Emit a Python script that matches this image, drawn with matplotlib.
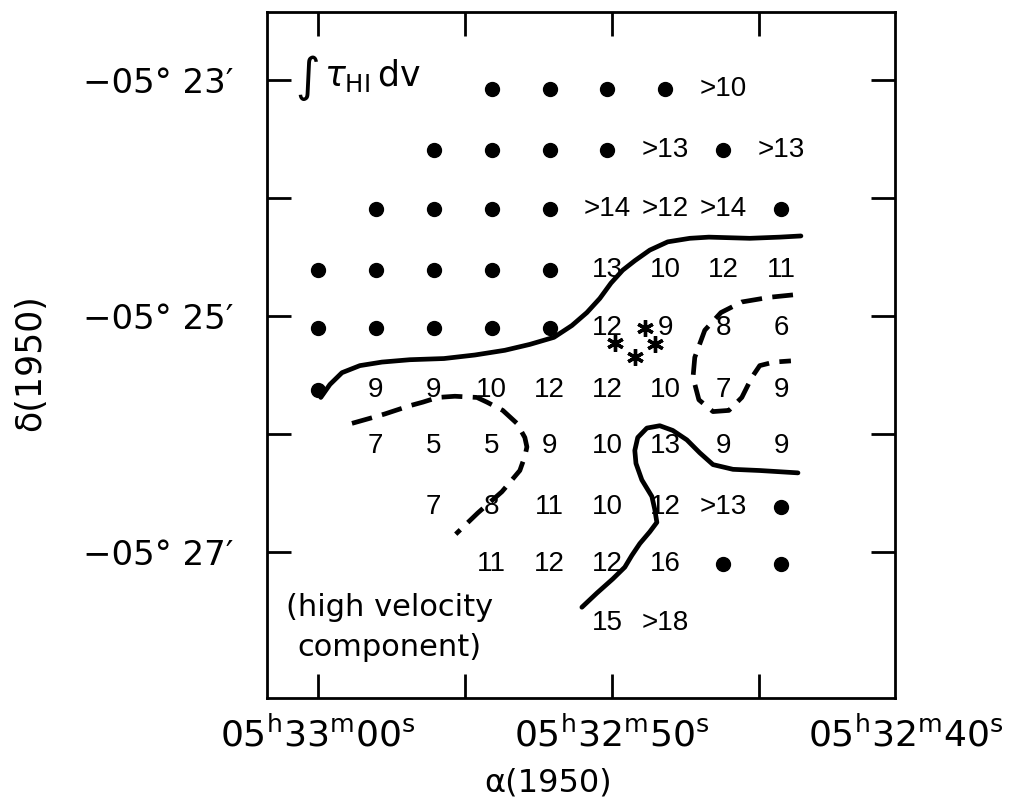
import numpy as np
import matplotlib
matplotlib.use("Agg")
import matplotlib.pyplot as plt

# grid of positions: RA seconds (05h32m + s) and Dec arcmin (-05 deg + ')
ra_cols = [60.0, 58.03, 56.06, 54.09, 52.12, 50.15, 48.18, 46.21, 44.24]
dec_rows = [-23.07, -23.59, -24.09, -24.61, -25.10, -25.63, -26.10, -26.62, -27.10, -27.60]

# integrated optical depth per grid point, "*" = dot (no value), "" = not observed
tau_grid = [
    ["", "", "", "*", "*", "*", "*", ">10", ""],
    ["", "", "*", "*", "*", "*", ">13", "*", ">13"],
    ["", "*", "*", "*", "*", ">14", ">12", ">14", "*"],
    ["*", "*", "*", "*", "*", "13", "10", "12", "11"],
    ["*", "*", "*", "*", "*", "12", "9", "8", "6"],
    ["*", "9", "9", "10", "12", "12", "10", "7", "9"],
    ["", "7", "5", "5", "9", "10", "13", "9", "9"],
    ["", "", "7", "8", "11", "10", "12", ">13", "*"],
    ["", "", "", "11", "12", "12", "16", "*", "*"],
    ["", "", "", "", "", "15", ">18", "", ""],
]

# stars (asterisks)
star_ra = [49.90, 48.88, 49.22, 48.54]
star_dec = [-25.23, -25.10, -25.35, -25.24]

# solid contour, upper
solid1_ra = [59.90, 59.59, 59.18, 58.57, 57.82, 56.87, 55.71, 54.66, 53.64, 52.79, 51.97, 51.36,
             50.85, 50.41, 50.03, 49.63, 49.22, 48.71, 48.10, 47.35, 46.70, 45.31, 44.29, 43.57]
solid1_dec = [-25.69, -25.58, -25.48, -25.42, -25.39, -25.37, -25.36, -25.33, -25.29, -25.24, -25.18, -25.08,
              -24.97, -24.85, -24.72, -24.61, -24.53, -24.44, -24.37, -24.34, -24.33, -24.34, -24.33, -24.32]

# solid contour, lower
solid2_ra = [51.02, 50.51, 49.97, 49.56, 49.32, 49.05, 48.71, 48.47, 48.54, 48.64, 48.98, 49.18,
             49.22, 49.12, 48.81, 48.37, 47.93, 47.45, 47.01, 46.56, 45.88, 44.97, 43.67]
solid2_dec = [-27.47, -27.35, -27.23, -27.13, -27.03, -26.93, -26.83, -26.75, -26.64, -26.53, -26.39, -26.25,
              -26.14, -26.03, -25.95, -25.93, -25.97, -26.05, -26.16, -26.26, -26.30, -26.31, -26.33]

# dashed contour, left
dash1_ra = [58.84, 58.13, 57.72, 56.87, 56.43, 55.92, 55.34, 54.59, 54.25, 53.71, 53.23, 52.96,
            52.89, 52.96, 53.13, 53.40, 53.74, 54.15, 54.56, 55.31]
dash1_dec = [-25.91, -25.86, -25.83, -25.76, -25.73, -25.69, -25.68, -25.69, -25.73, -25.80, -25.91, -26.03,
             -26.11, -26.19, -26.31, -26.39, -26.49, -26.58, -26.67, -26.85]

# dashed contour, right
dash2_ra = [43.84, 44.63, 45.58, 46.29, 46.84, 47.18, 47.24, 47.04, 46.56, 46.02, 45.58, 45.24,
            44.97, 44.49, 43.91]
dash2_dec = [-24.82, -24.84, -24.88, -24.97, -25.12, -25.35, -25.52, -25.71, -25.81, -25.80, -25.69, -25.52,
             -25.42, -25.39, -25.38]

xticks = [60, 55, 50, 45]
yticks = [-23, -24, -25, -26, -27]
ytick_labels = ["\u221205\u00b0 23\u2032", "", "\u221205\u00b0 25\u2032", "", "\u221205\u00b0 27\u2032"]
ra_labels = [(60, r"05$^{\rm h}$33$^{\rm m}$00$^{\rm s}$"),
             (50, r"05$^{\rm h}$32$^{\rm m}$50$^{\rm s}$"),
             (40, r"05$^{\rm h}$32$^{\rm m}$40$^{\rm s}$")]

plt.rcParams["font.family"] = ["DejaVu Sans"]
plt.rcParams["mathtext.fontset"] = "dejavusans"

fig = plt.figure(figsize=(10.16, 8.06), dpi=100)
ax = fig.add_axes([0.2628, 0.1340, 0.6181, 0.8511])
ax.set_xlim(61.73, 40.37)
ax.set_ylim(-28.24, -22.42)

for sp in ax.spines.values():
    sp.set_linewidth(2)

ax.set_xticks(xticks)
ax.set_xticklabels([])
ax.set_yticks(yticks)
ax.set_yticklabels(ytick_labels, fontsize=24.5)
ax.tick_params(axis="both", direction="in", length=17, width=2,
               top=True, right=True, pad=24)

# grid values
for j, row in enumerate(tau_grid):
    for i, v in enumerate(row):
        if v == "":
            continue
        if v == "*":
            ax.plot(ra_cols[i], dec_rows[j], "o", color="black", ms=10)
        else:
            ax.text(ra_cols[i], dec_rows[j], v, fontsize=20, ha="center", va="center",
                    family=["Liberation Sans", "DejaVu Sans"])

ax.plot(star_ra, star_dec, ls="none", marker=(6, 2, 0), ms=12, mew=2.4, color="black")

ax.plot(solid1_ra, solid1_dec, color="black", lw=3.4, solid_capstyle="round", solid_joinstyle="round")
ax.plot(solid2_ra, solid2_dec, color="black", lw=3.4, solid_capstyle="round", solid_joinstyle="round")
ax.plot(dash1_ra, dash1_dec, color="black", lw=3.4, ls=(0, (4.4, 2.2)))
ax.plot(dash2_ra, dash2_dec, color="black", lw=3.4, ls=(0, (4.4, 2.2)))

# labels inside the box
ax.text(60.34, -22.98, "\u222b", fontsize=34, ha="center", va="center", style="italic")
ax.text(59.80, -23.05, r"$\tau_{\mathrm{HI}}\,\mathrm{dv}$", fontsize=25, ha="left", va="baseline")
ax.text(57.55, -27.64, "(high velocity\ncomponent)", fontsize=22, ha="center", va="center",
        multialignment="center", linespacing=1.5)

for x, lab in ra_labels:
    ax.text(x, -28.55, lab, fontsize=26, ha="center", va="center", clip_on=False)

fig.text(0.539, 0.0285, "\u03b1(1950)", fontsize=23, ha="center", va="center")
fig.text(0.0295, 0.5496, "\u03b4(1950)", fontsize=25, ha="center", va="center", rotation=90)

fig.savefig("out.png", dpi=100)
